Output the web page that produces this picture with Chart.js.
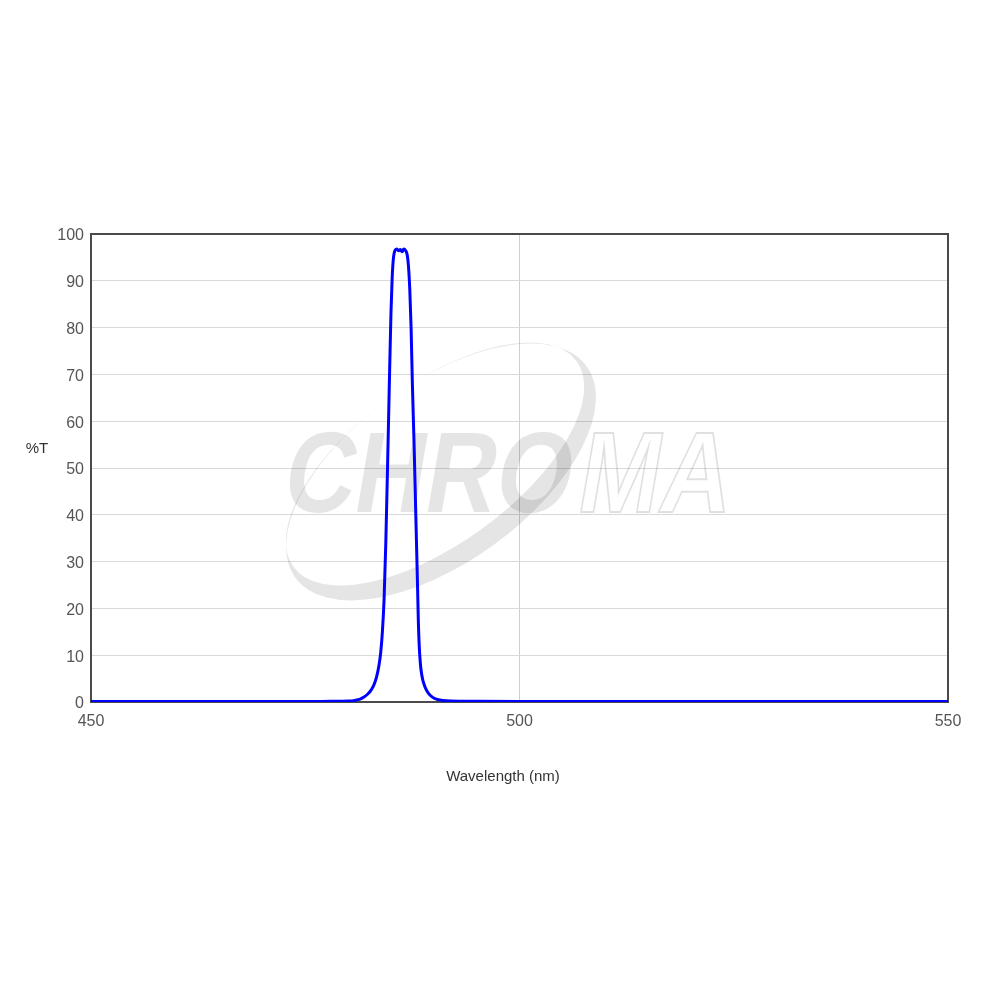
<!DOCTYPE html>
<html>
<head>
<meta charset="utf-8">
<script src="https://cdn.jsdelivr.net/npm/chart.js@4"></script>
<style>
  html, body { margin: 0; padding: 0; background: #fff; }
  #wrap { width: 1000px; height: 1000px; position: relative; }
</style>
</head>
<body>
<div id="wrap"><canvas id="myChart"></canvas></div>
<script>
// spectrum
const wavelength = [450, 460, 470, 475, 478, 480, 480.8, 481.4, 481.8, 482.3, 482.7, 483.0, 483.3, 483.6, 483.8,
  484.0, 484.2, 484.4, 484.6, 484.8, 485.0, 485.15, 485.3, 485.5, 485.7, 485.9, 486.1, 486.3, 486.5, 486.7,
  486.9, 487.05, 487.2, 487.35, 487.5, 487.7, 487.9, 488.1, 488.2, 488.3, 488.4, 488.5, 488.7, 488.9, 489.1,
  489.4, 489.8, 490.3, 491, 492, 495, 500, 510, 520, 530, 540, 550];
const transmission = [0.1, 0.1, 0.1, 0.1, 0.15, 0.2, 0.35, 0.6, 1.0, 1.7, 2.6, 3.6, 5.2, 7.8, 10.5,
  15, 22, 34, 50, 67, 83, 91, 95, 96.6, 96.8, 96.4, 96.7, 96.2, 96.8, 96.5,
  95.5, 93, 88, 80, 68, 55, 40, 25, 17, 12, 9, 7.0, 4.8, 3.6, 2.7,
  1.8, 1.1, 0.6, 0.35, 0.22, 0.15, 0.1, 0.1, 0.1, 0.1, 0.1, 0.1];
const xTicks = [450, 500, 550];
const yTicks = [0, 10, 20, 30, 40, 50, 60, 70, 80, 90, 100];

const points = wavelength.map((w, i) => ({ x: w, y: transmission[i] }));

// watermark, frame and axis titles
const decor = {
  id: 'decor',
  beforeDatasetsDraw(chart) {
    const ctx = chart.ctx;
    const a = chart.chartArea;
    ctx.save();
    ctx.beginPath();
    ctx.rect(a.left, a.top, a.right - a.left, a.bottom - a.top);
    ctx.clip();

    // swoosh ellipse
    ctx.fillStyle = 'rgba(0,0,0,0.1)';
    ctx.beginPath();
    ctx.ellipse(441, 472, 180, 90, -36 * Math.PI / 180, 0, Math.PI * 2);
    ctx.ellipse(435, 464, 175, 80, -36 * Math.PI / 180, 0, Math.PI * 2);
    ctx.fill('evenodd');

    // letters
    ctx.save();
    ctx.translate(280, 512);
    ctx.scale(0.85, 1);
    ctx.transform(1, 0, -0.2, 1, 0, 0);
    ctx.font = 'bold 115px "Liberation Sans", Arial, sans-serif';
    ctx.textBaseline = 'alphabetic';
    ctx.fillText('CHRO', 0, 0);
    const w = ctx.measureText('CHRO').width;
    ctx.strokeStyle = 'rgba(0,0,0,0.12)';
    ctx.lineWidth = 2;
    ctx.strokeText('MA', w + 8, 0);
    ctx.restore();
    ctx.restore();

    // frame
    ctx.save();
    ctx.strokeStyle = '#4a4a4a';
    ctx.lineWidth = 2;
    ctx.strokeRect(a.left, a.top, a.right - a.left, a.bottom - a.top);

    ctx.fillStyle = '#333';
    ctx.font = '15px "Liberation Sans", Arial, sans-serif';
    ctx.textAlign = 'center';
    ctx.textBaseline = 'middle';
    ctx.fillText('%T', 37, 449);
    ctx.fillText('Wavelength (nm)', 503, 777);
    ctx.restore();
  }
};

const ctx = document.getElementById('myChart').getContext('2d');
const myChart = new Chart(ctx, {
  type: 'line',
  data: {
    datasets: [{
      label: '%T',
      data: points,
      borderColor: '#0000ff',
      borderWidth: 3,
      pointRadius: 0,
      fill: false,
      cubicInterpolationMode: 'monotone'
    }]
  },
  options: {
    responsive: true,
    maintainAspectRatio: false,
    animation: false,
    layout: { padding: { left: 0, right: 52, top: 234, bottom: 258 } },
    plugins: { legend: { display: false }, tooltip: { enabled: false } },
    scales: {
      x: {
        type: 'linear',
        min: 450,
        max: 550,
        afterBuildTicks: (s) => { s.ticks = xTicks.map(v => ({ value: v })); },
        afterFit: (s) => { s.height = 40; },
        grid: { color: '#cfcfcf', drawTicks: false },
        border: { display: false },
        ticks: { color: '#555', padding: 10, font: { size: 16, family: '"Liberation Sans", Arial, sans-serif' } }
      },
      y: {
        min: 0,
        max: 100,
        afterBuildTicks: (s) => { s.ticks = yTicks.map(v => ({ value: v })); },
        afterFit: (s) => { s.width = 91; },
        grid: { color: '#d9d9d9', drawTicks: false },
        border: { display: false },
        ticks: { color: '#555', padding: 7, labelOffset: 2, font: { size: 16, family: '"Liberation Sans", Arial, sans-serif' } }
      }
    }
  },
  plugins: [decor]
});
</script>
</body>
</html>
